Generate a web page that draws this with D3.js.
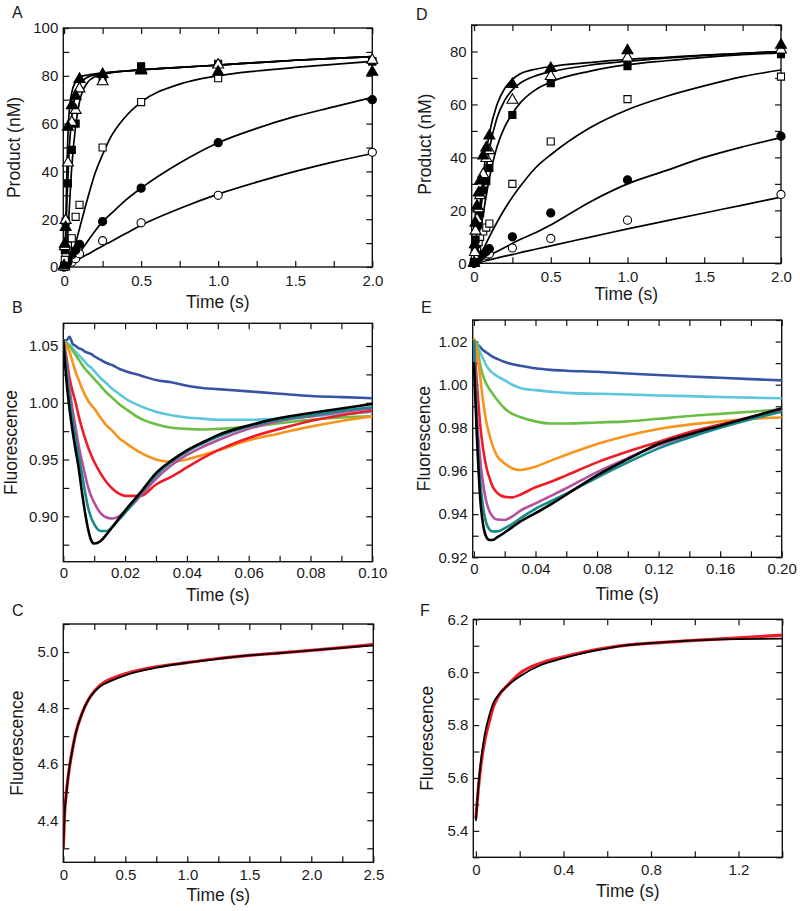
<!DOCTYPE html>
<html><head><meta charset="utf-8">
<script src="https://cdn.jsdelivr.net/npm/d3@7"></script>
<style>
body{margin:0;background:#fff}
text{font-family:"Liberation Sans",Arial,Helvetica,sans-serif;fill:#1a1a1a}
</style>
</head><body>
<svg id="fig" width="800" height="911"></svg>
<script>
// ---------------- Panel A (quench data) ----------------
const timeA = [0, 0.005, 0.01, 0.025, 0.05, 0.075, 0.1, 0.25, 0.5, 1.0, 2.0];
const aFilledTri  = [1, 10, 17, 59, 68, 72, 79, 81, 82.5, 82, 82];
const aOpenTri    = [0.5, 9, 20, 44, 61, 66, 75, 78, 83, 85, 87];
const aFilledSq   = [0.5, 7, 19, 35, 49, 60, null, 78, 84, 85, 86];
const aOpenSq     = [0, 3, 6, 9, 12, 21, 26, 50, 69, 79, 86];
const aFilledCirc = [0, 0.5, 1, 2, 5, 7, 9.5, 19, 33, 52, 70];
const aOpenCirc   = [0, 0.5, 1, 1.5, 2, 3.5, 5.5, 11, 18.5, 30, 48];
const fitTimeA = [0, 0.01, 0.02, 0.03, 0.05, 0.075, 0.1, 0.15, 0.2, 0.25, 0.3, 0.4, 0.5, 0.75, 1.0, 1.25, 1.5, 1.75, 2.0];
const aFitFilledTri  = [0, 15, 45, 62, 73, 77.5, 79.5, 80.3, 80.8, 81.2, 81.5, 82, 82.5, 83.5, 84.5, 85.5, 86.5, 87.3, 88];
const aFitOpenTri    = [0, 10, 30, 45, 63, 72, 76.5, 79.3, 80.4, 81, 81.4, 82, 82.5, 83.5, 84.5, 85.5, 86.5, 87.3, 88];
const aFitFilledSq   = [0, 3, 10, 20, 42, 59, 69, 77, 79.6, 80.6, 81.2, 82, 82.5, 83.5, 84.5, 85.5, 86.5, 87.3, 88];
const aFitOpenSq     = [0, 0.3, 1, 2, 5, 10, 16, 28, 39, 47, 54, 63, 69, 76.5, 80, 82, 83.5, 84.8, 86];
const aFitFilledCirc = [0, 0.1, 0.4, 0.8, 2, 4, 6, 10.5, 15, 19, 22, 28, 33, 43.5, 52, 58, 63, 67, 71];
const aFitOpenCirc   = [0, 0.3, 0.6, 1, 1.7, 2.6, 3.5, 5.2, 7, 8.8, 10.5, 14, 17.5, 24.5, 30.5, 35.5, 40, 44, 47.5];

// ---------------- Panel D (quench data) ----------------
const timeD = [0, 0.005, 0.01, 0.02, 0.03, 0.04, 0.06, 0.08, 0.1, 0.25, 0.5, 1.0, 2.0];
const dFilledTri  = [0.5, 7.5, 15.6, 22, 27, 31.5, 41, 44, 48.5, 68, 74, 80.7, 82.8];
const dOpenTri    = [0.5, 4.5, 12.6, 17, 21, 26, 34, 40, 43, 62, 71, 78, 81];
const dFilledSq   = [0.5, 4.5, 9, 14, 18, 19, 27.5, 31, 36, 56, 68, 74.5, 79];
const dOpenSq     = [0.5, 2.5, 5, 6, 8, 10, 12, 13.5, 15, 30, 46, 62, 70.5];
const dFilledCirc = [0, 0.5, 1, 1.5, 2, 2.5, 3.5, 4.5, 5.5, 10, 19, 31.5, 48];
const dOpenCirc   = [0, 0.3, 0.6, 1, 1.3, 1.7, 2.3, 3, 3.5, 5.8, 9.4, 16.3, 26];
const fitTimeD = [0, 0.01, 0.02, 0.03, 0.05, 0.075, 0.1, 0.15, 0.2, 0.25, 0.3, 0.4, 0.5, 0.75, 1.0, 1.25, 1.5, 1.75, 2.0];
const dFitFilledTri  = [0, 5, 11, 17, 28, 40, 49, 60, 66, 69.5, 71.5, 73.3, 74.3, 75.8, 77, 77.8, 78.6, 79.3, 80];
const dFitOpenTri    = [0, 3.5, 8.5, 13.5, 23, 34, 43, 55, 61.5, 65.5, 68, 70.8, 72.3, 74.8, 76.3, 77.5, 78.5, 79.3, 80];
const dFitFilledSq   = [0, 1.5, 4, 7.5, 15, 24, 32, 44, 51.5, 56.5, 60.5, 65.5, 68.5, 72.5, 75, 76.5, 77.8, 78.8, 79.5];
const dFitOpenSq     = [0, 0.5, 1.2, 2, 4, 7, 10, 15.5, 20.5, 25, 29, 36, 41, 51, 58, 63, 67, 70.5, 73];
const dFitFilledCirc = [0, 0.2, 0.5, 0.8, 1.4, 2.2, 3, 4.5, 6, 7.5, 9, 11.5, 14.5, 23, 30, 35, 40, 44, 47.5];
const dFitOpenCirc   = [0, 0.1, 0.3, 0.4, 0.7, 1, 1.3, 2, 2.7, 3.3, 4, 5.3, 6.6, 9.8, 13, 16, 19, 22, 25];

// ---------------- Panel B (fluorescence traces) ----------------
const timeB = [0, 0.001, 0.002, 0.003, 0.004, 0.005, 0.006, 0.007, 0.008, 0.009, 0.01, 0.012, 0.014, 0.016, 0.018, 0.02, 0.025, 0.03, 0.035, 0.04, 0.045, 0.05, 0.06, 0.07, 0.08, 0.09, 0.1];
const bBlue    = [1.055, 1.055, 1.058, 1.052, 1.05, 1.048, 1.047, 1.045, 1.044, 1.043, 1.041, 1.038, 1.035, 1.033, 1.03, 1.028, 1.024, 1.02, 1.018, 1.015, 1.013, 1.012, 1.01, 1.008, 1.006, 1.005, 1.004];
const bCyan    = [1.055, 1.053, 1.051, 1.048, 1.045, 1.042, 1.039, 1.036, 1.033, 1.031, 1.028, 1.022, 1.017, 1.012, 1.008, 1.004, 0.997, 0.992, 0.989, 0.987, 0.986, 0.985, 0.985, 0.986, 0.988, 0.990, 0.992];
const bGreen   = [1.055, 1.053, 1.05, 1.046, 1.042, 1.038, 1.034, 1.03, 1.027, 1.024, 1.021, 1.015, 1.009, 1.004, 0.999, 0.995, 0.986, 0.981, 0.978, 0.977, 0.9765, 0.977, 0.979, 0.982, 0.985, 0.987, 0.988];
const bOrange  = [1.055, 1.05, 1.045, 1.036, 1.027, 1.02, 1.013, 1.007, 1.002, 0.998, 0.995, 0.987, 0.98, 0.975, 0.969, 0.965, 0.956, 0.95, 0.948, 0.95, 0.954, 0.958, 0.967, 0.973, 0.979, 0.984, 0.988];
const bRed     = [1.055, 1.04, 1.022, 1.01, 1.0, 0.988, 0.978, 0.969, 0.961, 0.954, 0.948, 0.938, 0.93, 0.924, 0.92, 0.918, 0.918, 0.928, 0.935, 0.943, 0.951, 0.958, 0.969, 0.977, 0.984, 0.989, 0.993];
const bMagenta = [1.055, 1.035, 1.013, 0.994, 0.978, 0.962, 0.949, 0.937, 0.926, 0.918, 0.912, 0.903, 0.899, 0.898, 0.9, 0.904, 0.918, 0.933, 0.945, 0.954, 0.961, 0.967, 0.977, 0.984, 0.988, 0.992, 0.995];
const bTeal    = [1.055, 1.03, 1.005, 0.985, 0.968, 0.953, 0.938, 0.922, 0.908, 0.899, 0.893, 0.887, 0.887, 0.891, 0.897, 0.903, 0.92, 0.936, 0.948, 0.957, 0.964, 0.97, 0.979, 0.985, 0.989, 0.993, 0.996];
const bBlack   = [1.055, 1.02, 0.995, 0.975, 0.958, 0.942, 0.922, 0.904, 0.889, 0.879, 0.876, 0.878, 0.884, 0.891, 0.898, 0.905, 0.921, 0.938, 0.949, 0.958, 0.965, 0.9715, 0.98, 0.9865, 0.991, 0.995, 0.999];

// ---------------- Panel E (fluorescence traces) ----------------
const timeE = [0, 0.002, 0.004, 0.006, 0.008, 0.01, 0.012, 0.015, 0.02, 0.025, 0.03, 0.04, 0.05, 0.06, 0.08, 0.1, 0.12, 0.14, 0.16, 0.18, 0.2];
const eBlue    = [1.021, 1.019, 1.0175, 1.016, 1.015, 1.014, 1.013, 1.012, 1.0105, 1.0095, 1.0088, 1.0076, 1.0069, 1.0065, 1.006, 1.0052, 1.0045, 1.0038, 1.0032, 1.0026, 1.002];
const eCyan    = [1.021, 1.019, 1.015, 1.012, 1.009, 1.007, 1.0055, 1.004, 1.002, 1.0, 0.9985, 0.9975, 0.9968, 0.9962, 0.9958, 0.9955, 0.995, 0.9947, 0.9943, 0.994, 0.9937];
const eGreen   = [1.021, 1.018, 1.0095, 1.004, 1.0005, 0.998, 0.996, 0.993, 0.989, 0.9865, 0.985, 0.983, 0.982, 0.982, 0.9825, 0.983, 0.9842, 0.9855, 0.9865, 0.9875, 0.9885];
const eOrange  = [1.021, 1.015, 1.004, 0.992, 0.983, 0.977, 0.972, 0.967, 0.9635, 0.9612, 0.9605, 0.962, 0.9648, 0.9675, 0.9725, 0.9765, 0.9795, 0.9815, 0.983, 0.9842, 0.9848];
const eRed     = [1.02, 1.0, 0.982, 0.97, 0.962, 0.957, 0.953, 0.95, 0.948, 0.9478, 0.949, 0.9525, 0.955, 0.958, 0.964, 0.969, 0.9735, 0.978, 0.9815, 0.985, 0.988];
const eMagenta = [1.02, 0.985, 0.966, 0.954, 0.946, 0.9415, 0.939, 0.9375, 0.9373, 0.939, 0.9415, 0.945, 0.9485, 0.952, 0.9595, 0.966, 0.972, 0.9765, 0.981, 0.985, 0.989];
const eTeal    = [1.02, 0.978, 0.956, 0.943, 0.936, 0.933, 0.932, 0.932, 0.9335, 0.9355, 0.938, 0.9425, 0.946, 0.9495, 0.957, 0.964, 0.9705, 0.9755, 0.98, 0.984, 0.9875];
const eBlack   = [1.01, 0.975, 0.948, 0.935, 0.9295, 0.928, 0.928, 0.9292, 0.9315, 0.934, 0.9365, 0.9405, 0.9445, 0.949, 0.958, 0.9655, 0.9725, 0.977, 0.981, 0.985, 0.989];

// ---------------- Panel C ----------------
const timeC = [0, 0.01, 0.025, 0.05, 0.075, 0.1, 0.15, 0.2, 0.25, 0.3, 0.4, 0.5, 0.75, 1.0, 1.25, 1.5, 1.75, 2.0, 2.25, 2.5];
const cData = [4.30, 4.42, 4.50, 4.59, 4.655, 4.71, 4.78, 4.828, 4.86, 4.883, 4.907, 4.922, 4.947, 4.962, 4.977, 4.988, 4.997, 5.006, 5.016, 5.027];
const cFit  = [4.30, 4.42, 4.497, 4.59, 4.655, 4.71, 4.78, 4.828, 4.858, 4.878, 4.90, 4.917, 4.944, 4.962, 4.976, 4.988, 4.996, 5.006, 5.015, 5.024];

// ---------------- Panel F ----------------
const timeF = [0, 0.01, 0.02, 0.04, 0.06, 0.08, 0.1, 0.15, 0.2, 0.3, 0.4, 0.5, 0.6, 0.7, 0.8, 1.0, 1.2, 1.4];
const fData = [5.45, 5.55, 5.63, 5.74, 5.81, 5.87, 5.905, 5.955, 5.995, 6.035, 6.058, 6.077, 6.092, 6.103, 6.11, 6.12, 6.13, 6.14];
const fFit  = [5.44, 5.557, 5.645, 5.764, 5.833, 5.884, 5.911, 5.953, 5.984, 6.028, 6.053, 6.074, 6.09, 6.103, 6.11, 6.12, 6.125, 6.127];

const traceColors = {blue:"#3853a4", cyan:"#5cc6dd", green:"#6cbd45", orange:"#f7941e", red:"#ee1c25", magenta:"#b5509f", teal:"#16898a", black:"#000000"};

const svg = d3.select("#fig");
let clipId = 0;

function isMult(d, step){ const r = d/step; return Math.abs(r - Math.round(r)) < 1e-6; }
function ticksFrom(a, b, step){ const n = Math.round((b-a)/step); return d3.range(n+1).map(i => +(a + i*step).toFixed(6)); }

function panel(o){
  const g = svg.append("g");
  const x = d3.scaleLinear().domain(o.xd).range([o.left, o.right]);
  const y = d3.scaleLinear().domain(o.yd).range([o.bottom, o.top]);
  const id = "clip" + (clipId++);
  g.append("clipPath").attr("id", id).append("rect")
    .attr("x", o.left).attr("y", o.top).attr("width", o.right-o.left).attr("height", o.bottom-o.top);

  const xt = ticksFrom(o.xTick[0], o.xTick[1], o.xTick[2]);
  const yt = ticksFrom(o.yTick[0], o.yTick[1], o.yTick[2]);
  const fx = d => isMult(d, o.xLab) ? (d===0 ? "0" : d3.format(o.xFmt)(d)) : "";
  const fy = d => isMult(d, o.yLab) ? (d===0 ? "0" : d3.format(o.yFmt)(d)) : "";
  const tl = 6;
  const styleAxis = sel => { sel.select(".domain").remove(); sel.selectAll("line").attr("stroke","#111").attr("stroke-width",1.2);
    sel.selectAll("text").attr("font-size", 15).attr("fill","#1a1a1a").attr("font-family",'"Liberation Sans",Arial,sans-serif'); };
  g.append("g").attr("transform",`translate(0,${o.bottom})`)
    .call(d3.axisBottom(x).tickValues(xt).tickSizeInner(-tl).tickSizeOuter(0).tickPadding(o.xPad).tickFormat(fx)).call(styleAxis);
  g.append("g").attr("transform",`translate(0,${o.top})`)
    .call(d3.axisTop(x).tickValues(xt).tickSizeInner(-tl).tickSizeOuter(0).tickFormat(() => "")).call(styleAxis);
  g.append("g").attr("transform",`translate(${o.left},0)`)
    .call(d3.axisLeft(y).tickValues(yt).tickSizeInner(-tl).tickSizeOuter(0).tickPadding(5).tickFormat(fy)).call(styleAxis);
  g.append("g").attr("transform",`translate(${o.right},0)`)
    .call(d3.axisRight(y).tickValues(yt).tickSizeInner(-tl).tickSizeOuter(0).tickFormat(() => "")).call(styleAxis);

  g.append("rect").attr("x", o.left).attr("y", o.top).attr("width", o.right-o.left).attr("height", o.bottom-o.top)
    .attr("fill","none").attr("stroke","#111").attr("stroke-width",1.4);

  g.append("text").attr("x", (o.left+o.right)/2).attr("y", o.xTitleY).attr("text-anchor","middle")
    .attr("font-size", 17.5).text("Time (s)");
  g.append("text").attr("transform",`translate(${o.yTitleX},${(o.top+o.bottom)/2}) rotate(-90)`).attr("text-anchor","middle")
    .attr("font-size", 17.5).text(o.yTitle);
  g.append("text").attr("x", o.letter[1]).attr("y", o.letter[2]).attr("font-size", 16).text(o.letter[0]);

  const plot = g.append("g").attr("clip-path", `url(#${id})`);
  return {x, y, g, plot};
}

function lineOf(p, times, vals, color, width){
  const line = d3.line().defined(d => d[1] != null).x(d => p.x(d[0])).y(d => p.y(d[1])).curve(d3.curveMonotoneX);
  p.plot.append("path").datum(times.map((t,i) => [t, vals[i]]))
    .attr("d", line).attr("fill","none").attr("stroke", color).attr("stroke-width", width)
    .attr("stroke-linejoin","round").attr("stroke-linecap","round");
}

function markersOf(p, times, vals, shape, filled){
  const types = {tri: d3.symbolTriangle, sq: d3.symbolSquare, circ: d3.symbolCircle};
  const sizes = {tri: 52, sq: 50, circ: 52};
  const sym = d3.symbol().type(types[shape]).size(sizes[shape]);
  p.g.append("g").selectAll("path").data(times.map((t,i) => [t, vals[i]]).filter(d => d[1] != null))
    .join("path").attr("d", sym)
    .attr("transform", d => `translate(${p.x(d[0])},${p.y(d[1]) + (shape==="tri" ? 1 : 0)})`)
    .attr("fill", filled ? "#000" : "#fff").attr("stroke","#000").attr("stroke-width",1.1);
}

// ---- Panel A ----
const pA = panel({left:63.3, right:372.3, top:28, bottom:267, xd:[-0.005,2.0], yd:[0,100],
  xTick:[0,2,0.25], xLab:0.5, xFmt:".1f", yTick:[0,100,10], yLab:20, yFmt:"d", xPad:8,
  xTitleY:308, yTitleX:20, yTitle:"Product (nM)", letter:["A",12,18]});
[aFitOpenCirc, aFitFilledCirc, aFitOpenSq, aFitFilledSq, aFitOpenTri, aFitFilledTri]
  .forEach(s => lineOf(pA, fitTimeA, s, "#000", 1.7));
markersOf(pA, timeA, aOpenCirc, "circ", false);
markersOf(pA, timeA, aFilledCirc, "circ", true);
markersOf(pA, timeA, aOpenSq, "sq", false);
markersOf(pA, timeA, aFilledSq, "sq", true);
markersOf(pA, timeA, aOpenTri, "tri", false);
markersOf(pA, timeA, aFilledTri, "tri", true);

// ---- Panel D ----
const pD = panel({left:471.7, right:781, top:25, bottom:263.3, xd:[-0.015,2.0], yd:[0,90],
  xTick:[0,2,0.25], xLab:0.5, xFmt:".1f", yTick:[0,90,10], yLab:20, yFmt:"d", xPad:8,
  xTitleY:300, yTitleX:431, yTitle:"Product (nM)", letter:["D",416,20]});
[dFitOpenCirc, dFitFilledCirc, dFitOpenSq, dFitFilledSq, dFitOpenTri, dFitFilledTri]
  .forEach(s => lineOf(pD, fitTimeD, s, "#000", 1.7));
markersOf(pD, timeD, dOpenCirc, "circ", false);
markersOf(pD, timeD, dFilledCirc, "circ", true);
markersOf(pD, timeD, dOpenSq, "sq", false);
markersOf(pD, timeD, dFilledSq, "sq", true);
markersOf(pD, timeD, dOpenTri, "tri", false);
markersOf(pD, timeD, dFilledTri, "tri", true);

// ---- Panel B ----
const pB = panel({left:63.3, right:372.3, top:323.3, bottom:561.7, xd:[0,0.1], yd:[0.86,1.07],
  xTick:[0,0.1,0.01], xLab:0.02, xFmt:".2f", yTick:[0.875,1.05,0.025], yLab:0.05, yFmt:".2f", xPad:6,
  xTitleY:601, yTitleX:16.5, yTitle:"Fluorescence", letter:["B",12,313]});
[[bBlue,"blue"],[bCyan,"cyan"],[bGreen,"green"],[bOrange,"orange"],[bRed,"red"],[bMagenta,"magenta"],[bTeal,"teal"],[bBlack,"black"]]
  .forEach(s => lineOf(pB, timeB, s[0], traceColors[s[1]], 2.6));

// ---- Panel E ----
const pE = panel({left:472.7, right:781.7, top:320, bottom:557.3, xd:[-0.0008,0.2], yd:[0.92,1.03],
  xTick:[0,0.2,0.02], xLab:0.04, xFmt:".2f", yTick:[0.92,1.03,0.01], yLab:0.02, yFmt:".2f", xPad:6,
  xTitleY:599.5, yTitleX:430, yTitle:"Fluorescence", letter:["E",421,313]});
[[eBlue,"blue"],[eCyan,"cyan"],[eGreen,"green"],[eOrange,"orange"],[eRed,"red"],[eMagenta,"magenta"],[eTeal,"teal"],[eBlack,"black"]]
  .forEach(s => lineOf(pE, timeE, s[0], traceColors[s[1]], 2.6));

// ---- Panel C ----
const pC = panel({left:63.3, right:373.3, top:624, bottom:862.3, xd:[0,2.5], yd:[4.25,5.1],
  xTick:[0,2.5,0.25], xLab:0.5, xFmt:".1f", yTick:[4.3,5.1,0.1], yLab:0.2, yFmt:".1f", xPad:7.5,
  xTitleY:901, yTitleX:23, yTitle:"Fluorescence", letter:["C",12,616]});
lineOf(pC, timeC, cData, traceColors.red, 3.2);
lineOf(pC, timeC, cFit, "#000", 1.8);

// ---- Panel F ----
const pF = panel({left:473.3, right:782.3, top:619.3, bottom:857.3, xd:[-0.012,1.4], yd:[5.3,6.2],
  xTick:[0,1.4,0.2], xLab:0.4, xFmt:".1f", yTick:[5.3,6.2,0.1], yLab:0.2, yFmt:".1f", xPad:7.5,
  xTitleY:896.5, yTitleX:433, yTitle:"Fluorescence", letter:["F",420,616]});
lineOf(pF, timeF, fData, traceColors.red, 3.2);
lineOf(pF, timeF, fFit, "#000", 1.8);
</script>
</body></html>
